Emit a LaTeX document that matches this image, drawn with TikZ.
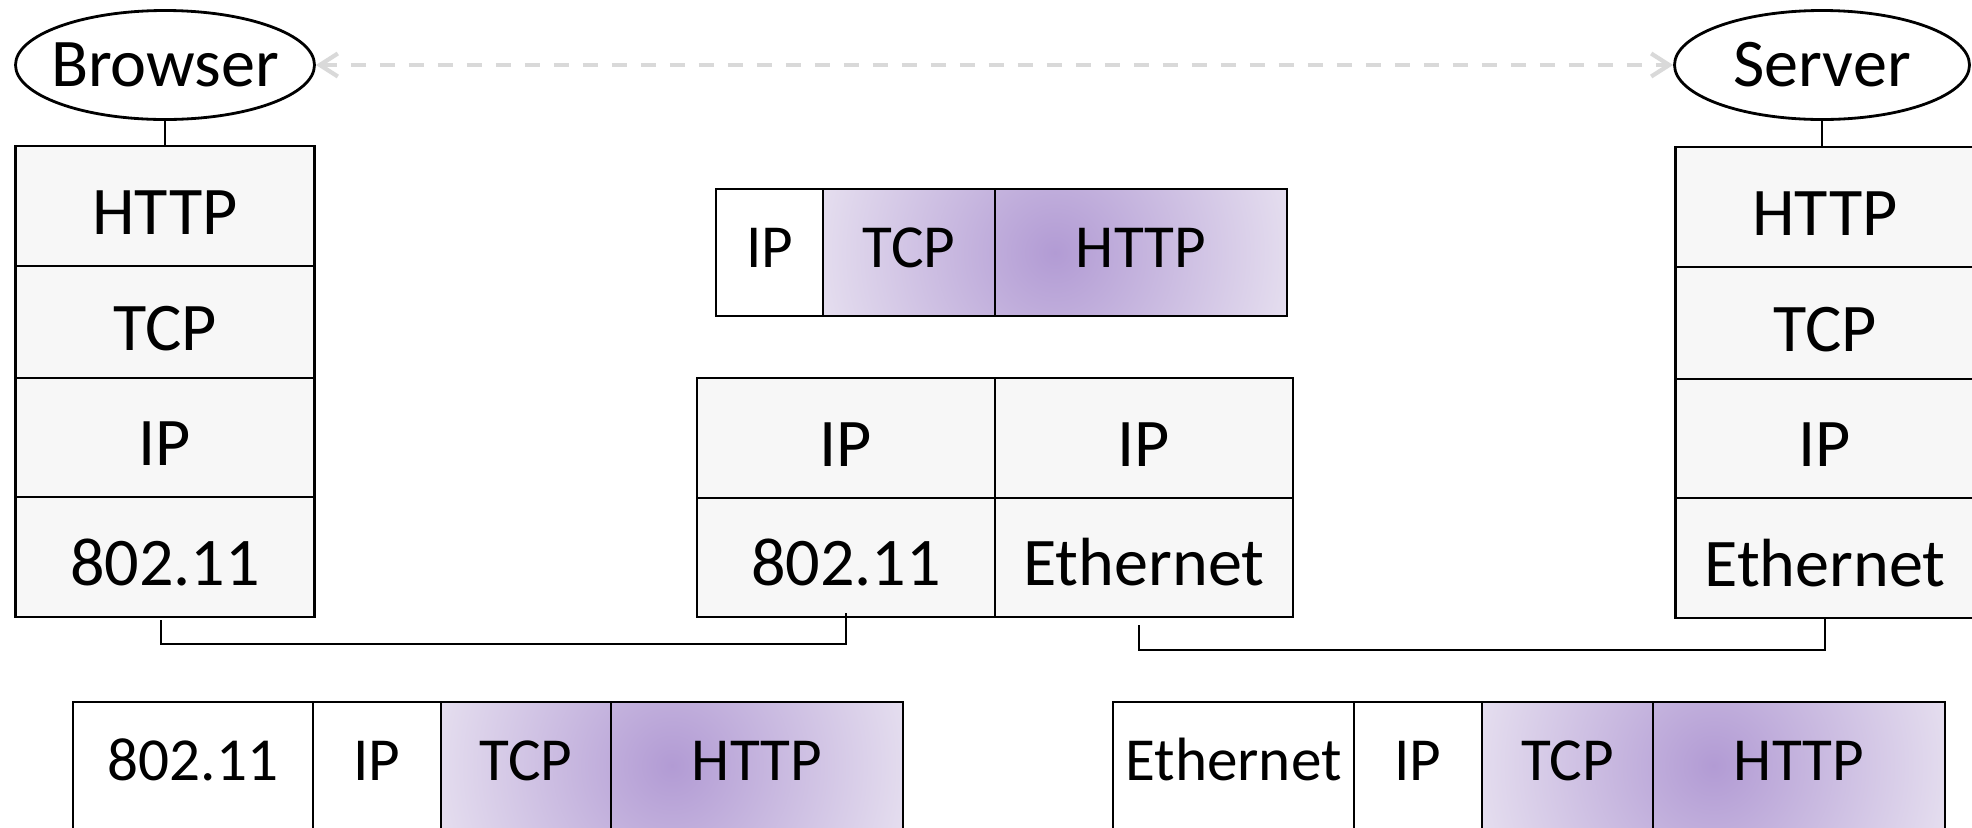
\documentclass[tikz,border=0pt]{standalone}
\usepackage{fontspec}
\setmainfont{Carlito}
\usepackage{tikz}
\usetikzlibrary{shapes,arrows,positioning,arrows.meta,calc}
\usetikzlibrary{backgrounds}

\definecolor{layergray}{RGB}{247,247,247}
\definecolor{pktdark}{RGB}{178,155,212}
\definecolor{pktlight}{RGB}{229,222,239}
\definecolor{e2egray}{RGB}{217,217,217}
\pgfdeclareradialshading{pktglow}{\pgfpoint{0bp}{0bp}}{%
    color(0bp)=(pktdark); color(25bp)=(pktlight); color(50bp)=(pktlight)}

\begin{document}
\begin{tikzpicture}[
    % GLOBAL CFG
    x=0.1mm, y=-0.1mm,
    font=\fontsize{19.4}{23}\selectfont,
    % Styles
    host/.style={% For browser and server
        ellipse,
        draw,
        line width=0.8pt,
        minimum width=29.9mm,
        minimum height=10.9mm,
        inner xsep=-1.2mm,
        inner ysep=0pt,
        },
    layer/.style={% For one layer of a stack
        rectangle,
        draw,
        line width=0.8pt,
        fill=layergray,
        minimum width=29.9mm,
        inner sep=0pt,
        outer sep=0pt,
        text height=5.6mm,
        text depth=0pt,
        },
    hdr/.style={% For one header of a packet
        rectangle,
        draw,
        line width=0.8pt,
        minimum height=12.7mm,
        inner sep=0pt,
        outer sep=0pt,
        text height=4mm,
        text depth=1mm,
        font=\fontsize{17.4}{21}\selectfont,
        },
    Link/.style={% Wires between the stacks
        line width=0.8pt,
        },
    ArrowD/.style={% Dashed end to end arrow
        e2egray,
        line width=1.2pt,
        dash pattern=on 1.5mm off 1.4mm,
        >={Straight Barb[length=1.8mm,width=2.3mm]},
        <->,
        }
    ]

    \path[use as bounding box] (0,0) rectangle (1972,827);
    \clip (0,0) rectangle (1972,827);

%Start drawing the thing...
    % Draw the end hosts
    \node [host] (browser) at (165,65) {Browser};
    \node [host, minimum width=29.5mm] (server) at (1822,65) {Server};

    % Browser stack, named b#
    \node [layer, minimum height=12mm] (bhttp) at (165,206) {HTTP};
    \node [layer, minimum height=11.2mm, below=0pt of bhttp] (btcp) {TCP};
    \node [layer, minimum height=11.9mm, below=0pt of btcp] (bip) {IP};
    \node [layer, minimum height=12mm, below=0pt of bip] (bnet) {802.11};

    % Server stack, named s#
    \node [layer, minimum height=12mm] (shttp) at (1825,207) {HTTP};
    \node [layer, minimum height=11.2mm, below=0pt of shttp] (stcp) {TCP};
    \node [layer, minimum height=11.9mm, below=0pt of stcp] (sip) {IP};
    \node [layer, minimum height=12mm, below=0pt of sip] (snet) {Ethernet};

    % Router, two half stacks
    \node [layer, minimum width=29.8mm, minimum height=12mm] (rip1) at (846,438) {IP};
    \node [layer, minimum width=29.8mm, minimum height=11.9mm, below=0pt of rip1] (rnet1) {802.11};
    \node [layer, minimum width=29.8mm, minimum height=12mm, right=0pt of rip1] (rip2) {IP};
    \node [layer, minimum width=29.8mm, minimum height=11.9mm, below=0pt of rip2] (rnet2) {Ethernet};

    % Packet in the middle, named p#
    \node [hdr, minimum width=10.7mm] (pip) at (769.5,252.5) {IP};
    \node [hdr, minimum width=17.2mm, right=0pt of pip] (ptcp) {TCP};
    \node [hdr, minimum width=29.2mm, right=0pt of ptcp] (phttp) {HTTP};

    % Packet on the wifi link, named w#
    \node [hdr, minimum width=24mm] (wnet) at (193,765.5) {802.11};
    \node [hdr, minimum width=12.8mm, right=0pt of wnet] (wip) {IP};
    \node [hdr, minimum width=17mm, right=0pt of wip] (wtcp) {TCP};
    \node [hdr, minimum width=29.2mm, right=0pt of wtcp] (whttp) {HTTP};

    % Packet on the ethernet link, named e#
    \node [hdr, minimum width=24.1mm] (enet) at (1233.5,765.5) {Ethernet};
    \node [hdr, minimum width=12.8mm, right=0pt of enet] (eip) {IP};
    \node [hdr, minimum width=17.1mm, right=0pt of eip] (etcp) {TCP};
    \node [hdr, minimum width=29.2mm, right=0pt of etcp] (ehttp) {HTTP};

    % Shade the TCP and HTTP parts
    \begin{scope}[on background layer]
        \foreach \t/\h in {ptcp/phttp, wtcp/whttp, etcp/ehttp}{
            \begin{scope}
                \clip (\t.north west) rectangle (\h.south east);
                \shade [shading=pktglow] ($(\t.west)!0.5!(\h.east)$) circle [radius=24mm];
            \end{scope}
        }
    \end{scope}

% Start connecting all.
    \draw [ArrowD] (browser) -- (server);
    \draw [Link] (browser) -- (bhttp);
    \draw [Link] (server.south) -- (server.south |- shttp.north);

    % Links
    \coordinate (w1) at (500,644);
    \coordinate (w2) at (1500,650);
    \draw [Link] ([xshift=-0.4mm,yshift=-0.3mm]bnet.south) |- (w1) -| ([yshift=0.4mm]rnet1.south);
    \draw [Link] ([xshift=-0.5mm,yshift=-0.8mm]rnet2.south) |- (w2) -| (snet.south);

\end{tikzpicture}
\end{document}
